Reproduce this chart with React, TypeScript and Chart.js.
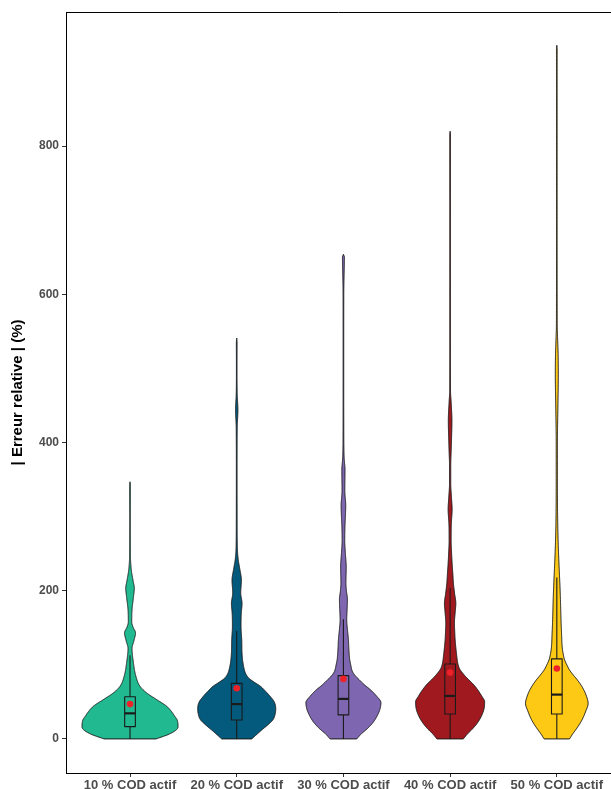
import React, { useEffect, useRef } from 'react';
import { Chart, registerables } from 'chart.js';

Chart.register(...registerables);

// ---------- data ----------
const categories = ['10 % COD actif', '20 % COD actif', '30 % COD actif', '40 % COD actif', '50 % COD actif'];
const violinColors = ['#20B990', '#035A7C', '#7E67B0', '#A0191F', '#FEC914'];
const yTicks = [0, 200, 400, 600, 800];

// kernel density profiles (value, relative density)
const vals10 = [0, 7, 16, 26, 30, 36, 44, 53, 62, 71, 84, 107, 122, 133, 143, 151, 158, 174, 192, 203, 214, 228, 250, 300, 330, 345, 347];
const dens10 = [26, 40, 48, 47, 45, 42, 36.7, 26.7, 16.7, 10, 6, 3, 2, 4, 5.5, 3, 1.7, 2, 3.5, 4.3, 3, 1.3, 0.4, 0.3, 0.4, 0.3, 0];

const vals20 = [0, 6, 12, 20, 26, 34, 41, 50, 57, 64, 71, 77, 82, 88, 93, 105, 116, 134, 152, 168, 183, 197, 214, 230, 242, 260, 300, 350, 420, 444, 465, 500, 535, 541];
const dens20 = [15, 20, 25, 32, 36.3, 38.5, 39, 37.5, 33.7, 29, 23.7, 17, 12, 9, 7.7, 6, 5.3, 5, 4.3, 4.5, 5.3, 4, 4.7, 3, 1.5, 0.6, 0.4, 0.35, 0.5, 1.2, 0.5, 0.3, 0.35, 0];

const vals30 = [0, 7, 14, 22, 30, 40, 49, 58, 66, 73, 80, 85, 91, 100, 107, 120, 134, 148, 161, 175, 188, 200, 210, 232, 250, 268, 285, 315, 335, 363, 380, 420, 500, 600, 640, 650, 654];
const dens30 = [13.3, 18, 24, 29.5, 33.3, 36.5, 37.5, 33, 27.3, 21, 15.7, 12, 9, 7.3, 6.3, 5.5, 5, 4, 3.3, 3.7, 4, 3, 2.5, 2.8, 2, 1.3, 1.5, 2.3, 1.4, 1.6, 0.7, 0.35, 0.3, 0.35, 0.9, 1.0, 0];

const vals40 = [0, 7, 14, 22, 30, 40, 50, 58, 66, 74, 81, 88, 95, 103, 111, 122, 134, 145, 156, 170, 183, 196, 210, 223, 237, 250, 268, 290, 310, 325, 345, 367, 395, 430, 455, 470, 550, 700, 815, 820];
const dens40 = [13.2, 17.5, 22.7, 27.5, 31, 33.8, 34.5, 31.5, 27.7, 23, 17.7, 13, 9.3, 7.5, 6.7, 5.8, 5, 4.6, 4.3, 5, 5.7, 4.5, 3.3, 2.7, 2, 1.5, 1, 1.2, 2, 1.4, 0.6, 0.6, 1.2, 1.8, 1.0, 0.4, 0.3, 0.3, 0.35, 0];

const vals50 = [0, 6, 12, 19, 26, 37, 48, 57, 66, 73, 80, 87, 93, 100, 107, 115, 125, 140, 156, 180, 201, 220, 241, 268, 300, 350, 400, 450, 490, 520, 540, 560, 700, 900, 930, 936];
const dens50 = [12.7, 15.5, 18.7, 22.3, 25.3, 28.8, 31.3, 29.8, 27, 24, 20.3, 16, 12.7, 10, 7.7, 6.3, 5.3, 4.8, 4.3, 3.8, 3.3, 2.7, 2, 1.3, 0.8, 0.6, 0.6, 1.1, 1.5, 1.3, 0.8, 0.4, 0.3, 0.3, 0.35, 0];

const violinValues = [vals10, vals20, vals30, vals40, vals50];
const violinDensities = [dens10, dens20, dens30, dens40, dens50];

// box plot statistics
const q1 = [16.6, 25.6, 32.4, 33.7, 33.7];
const medians = [34.5, 47, 54, 58, 59.8];
const q3 = [57, 75, 85.4, 101, 108];
const whiskerLow = [0, 0, 0, 0, 0];
const whiskerHigh = [113, 145.7, 161.5, 204, 218];
const means = [47, 68.4, 81, 89.5, 95];

// ---------- helpers ----------
function monotoneInterp(xs: number[], ys: number[]) {
  const n = xs.length;
  const dx: number[] = [];
  const m: number[] = [];
  for (let i = 0; i < n - 1; i++) {
    dx[i] = xs[i + 1] - xs[i];
    m[i] = (ys[i + 1] - ys[i]) / dx[i];
  }
  const t: number[] = new Array(n).fill(0);
  t[0] = m[0];
  t[n - 1] = m[n - 2];
  for (let i = 1; i < n - 1; i++) {
    t[i] = m[i - 1] * m[i] <= 0 ? 0 : (m[i - 1] + m[i]) / 2;
  }
  for (let i = 0; i < n - 1; i++) {
    if (m[i] === 0) {
      t[i] = 0;
      t[i + 1] = 0;
    } else {
      const a = t[i] / m[i];
      const b = t[i + 1] / m[i];
      const s = a * a + b * b;
      if (s > 9) {
        const tau = 3 / Math.sqrt(s);
        t[i] = tau * a * m[i];
        t[i + 1] = tau * b * m[i];
      }
    }
  }
  return (x: number) => {
    if (x <= xs[0]) return ys[0];
    if (x >= xs[n - 1]) return ys[n - 1];
    let i = 0;
    while (i < n - 2 && x > xs[i + 1]) i++;
    const h = dx[i];
    const s = (x - xs[i]) / h;
    const s2 = s * s;
    const s3 = s2 * s;
    return (2 * s3 - 3 * s2 + 1) * ys[i] + (s3 - 2 * s2 + s) * h * t[i] + (-2 * s3 + 3 * s2) * ys[i + 1] + (s3 - s2) * h * t[i + 1];
  };
}

const FONT = "'Liberation Sans', Arial, Helvetica, sans-serif";

const violinPlugin = {
  id: 'violinPlugin',
  beforeDatasetsDraw(chart: any) {
    const { ctx, chartArea } = chart;
    const x = chart.scales.x;
    const y = chart.scales.y;
    const maxD = Math.max(...violinDensities.map((d) => Math.max(...d)));
    ctx.save();
    ctx.beginPath();
    ctx.rect(chartArea.left, chartArea.top, chartArea.right - chartArea.left, chartArea.bottom - chartArea.top);
    ctx.clip();
    violinValues.forEach((vs, i) => {
      const c = i + 1;
      const f = monotoneInterp(vs, violinDensities[i]);
      const vTop = vs[vs.length - 1];
      const N = 900;
      const left: number[][] = [];
      const right: number[][] = [];
      for (let j = 0; j <= N; j++) {
        const v = (vTop * j) / N;
        const d = Math.max(0, f(v));
        const w = (d / maxD) * 0.45;
        const py = y.getPixelForValue(v);
        left.push([x.getPixelForValue(c - w), py]);
        right.push([x.getPixelForValue(c + w), py]);
      }
      ctx.beginPath();
      ctx.moveTo(left[0][0], left[0][1]);
      for (const p of left) ctx.lineTo(p[0], p[1]);
      for (let j = right.length - 1; j >= 0; j--) ctx.lineTo(right[j][0], right[j][1]);
      ctx.closePath();
      ctx.fillStyle = violinColors[i];
      ctx.fill();
      ctx.lineWidth = 1;
      ctx.lineJoin = 'round';
      ctx.strokeStyle = '#1a1a1a';
      ctx.stroke();

      // box plot
      const bx0 = x.getPixelForValue(c - 0.05);
      const bx1 = x.getPixelForValue(c + 0.05);
      const cx = x.getPixelForValue(c);
      const yq1 = y.getPixelForValue(q1[i]);
      const yq3 = y.getPixelForValue(q3[i]);
      const ymed = y.getPixelForValue(medians[i]);
      const ywl = y.getPixelForValue(whiskerLow[i]);
      const ywh = y.getPixelForValue(whiskerHigh[i]);
      ctx.strokeStyle = '#1a1a1a';
      ctx.lineWidth = 1.1;
      ctx.beginPath();
      ctx.moveTo(cx, yq3);
      ctx.lineTo(cx, ywh);
      ctx.moveTo(cx, yq1);
      ctx.lineTo(cx, ywl);
      ctx.stroke();
      ctx.strokeRect(bx0, yq3, bx1 - bx0, yq1 - yq3);
      ctx.lineWidth = 2.2;
      ctx.beginPath();
      ctx.moveTo(bx0, ymed);
      ctx.lineTo(bx1, ymed);
      ctx.stroke();
    });
    ctx.restore();
  },
  afterDraw(chart: any) {
    const { ctx, chartArea } = chart;
    ctx.save();
    ctx.strokeStyle = '#000';
    ctx.lineWidth = 1;
    ctx.beginPath();
    ctx.moveTo(chartArea.left, chartArea.top + 0.5);
    ctx.lineTo(chartArea.right, chartArea.top + 0.5);
    ctx.stroke();
    ctx.restore();
  },
};

export default function App() {
  const canvasRef = useRef<HTMLCanvasElement | null>(null);

  useEffect(() => {
    if (!canvasRef.current) return;
    const chart = new Chart(canvasRef.current, {
      type: 'scatter',
      data: {
        datasets: [
          {
            label: 'Moyenne',
            data: means.map((m, i) => ({ x: i + 1, y: m })),
            pointRadius: 3.3,
            pointHoverRadius: 3.3,
            backgroundColor: '#EE2028',
            borderWidth: 0,
          },
        ],
      },
      options: {
        animation: false,
        responsive: false,
        devicePixelRatio: 1,
        layout: { autoPadding: false, padding: { top: 12, left: 0, right: 0, bottom: 0 } },
        plugins: {
          legend: { display: false },
          tooltip: { enabled: false },
        },
        scales: {
          x: {
            type: 'linear',
            min: 0.4,
            max: 0.4 + 545 / 106.7,
            afterFit: (scale: any) => {
              scale.height = 16;
              scale.paddingLeft = 0;
              scale.paddingRight = 0;
            },
            afterBuildTicks: (scale: any) => {
              scale.ticks = categories.map((_, i) => ({ value: i + 1 }));
            },
            ticks: {
              autoSkip: false,
              maxRotation: 0,
              padding: 1,
              color: '#4D4D4D',
              font: { family: FONT, size: 13, weight: 'bold' },
              callback: (val: any) => categories[Math.round(Number(val)) - 1] ?? '',
            },
            grid: {
              drawOnChartArea: false,
              drawTicks: true,
              tickLength: 4,
              color: '#333',
              tickColor: '#333',
            },
            border: { display: true, color: '#000', width: 1 },
          },
          y: {
            type: 'linear',
            min: -46,
            max: 981,
            afterFit: (scale: any) => {
              scale.width = 66;
              scale.paddingTop = 0;
              scale.paddingBottom = 0;
            },
            afterBuildTicks: (scale: any) => {
              scale.ticks = yTicks.map((v) => ({ value: v }));
            },
            ticks: {
              padding: 3,
              color: '#4D4D4D',
              font: { family: FONT, size: 12, weight: 'bold' },
              callback: (val: any) => String(val),
            },
            grid: {
              drawOnChartArea: false,
              drawTicks: true,
              tickLength: 4,
              color: '#333',
              tickColor: '#333',
            },
            border: { display: true, color: '#000', width: 1 },
            title: {
              display: true,
              text: '| Erreur relative | (%)',
              color: '#000',
              font: { family: FONT, size: 15, weight: 'bold' },
              padding: { top: 9, bottom: 0 },
            },
          },
        },
      },
      plugins: [violinPlugin],
    });
    return () => chart.destroy();
  }, []);

  return (
    <div style={{ position: 'absolute', left: 0, top: 0, width: 611, height: 789, background: '#fff' }}>
      <canvas ref={canvasRef} width={611} height={789} style={{ display: 'block' }} />
    </div>
  );
}
